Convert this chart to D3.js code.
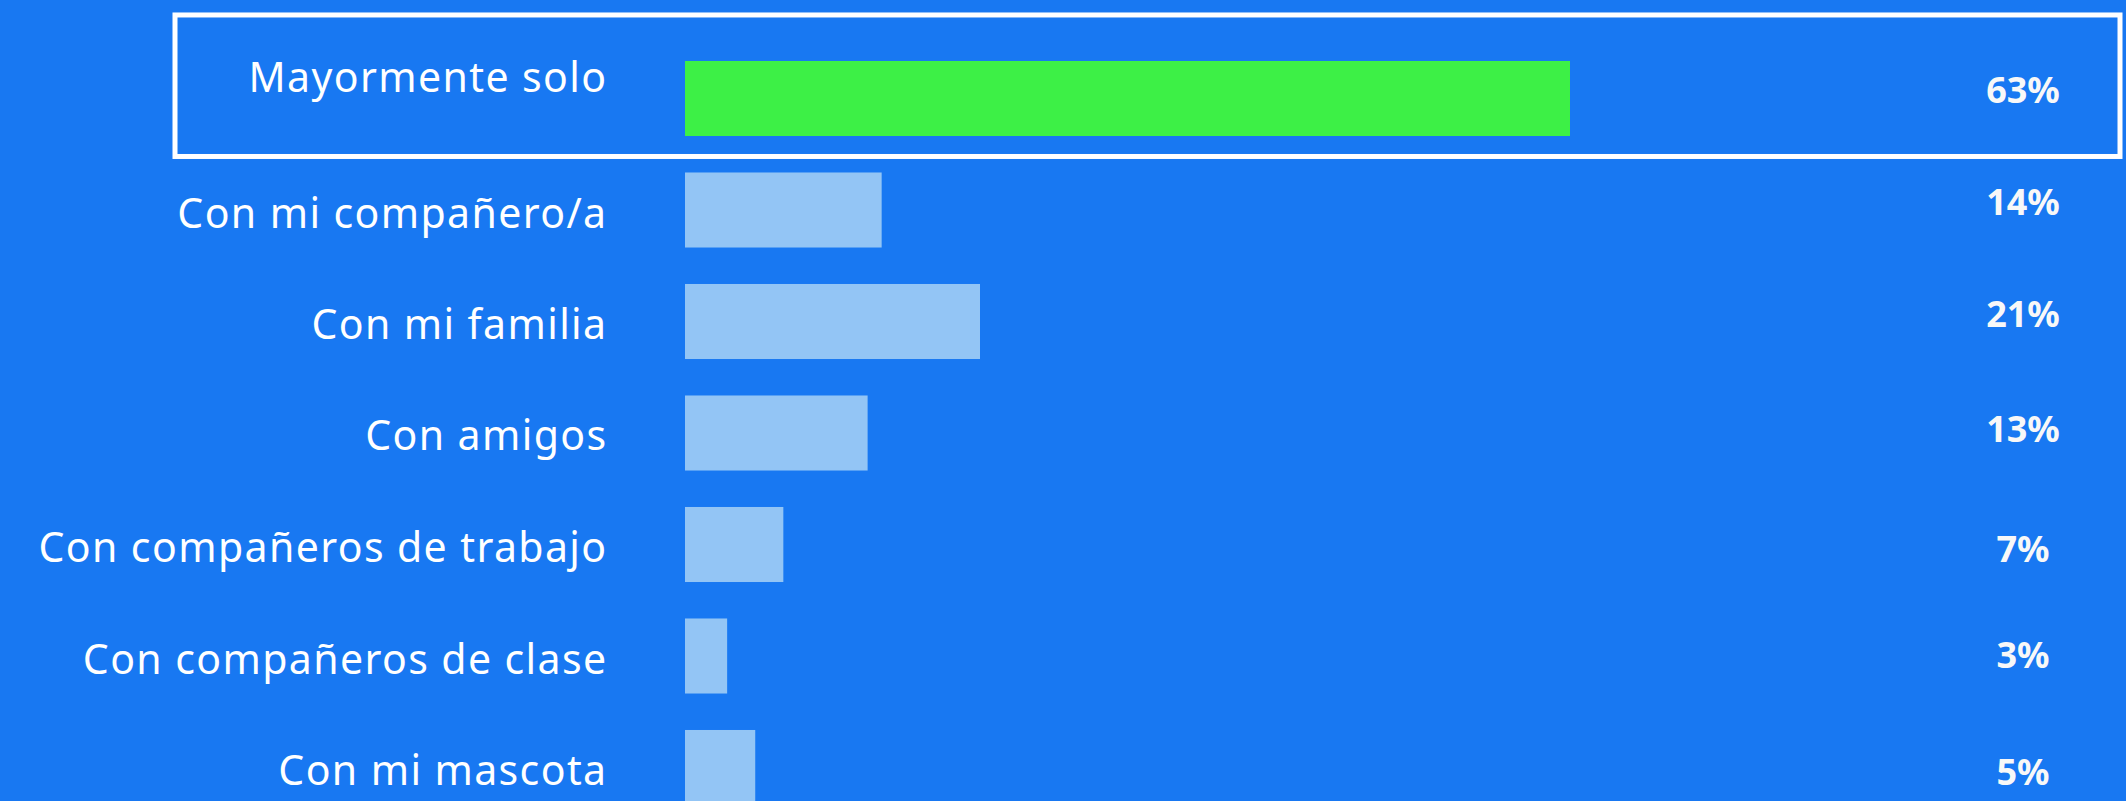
<!DOCTYPE html>
<html>
<head>
<meta charset="utf-8">
<script src="https://cdn.jsdelivr.net/npm/d3@7"></script>
<style>
  html, body { margin: 0; padding: 0; background: #1878F2; overflow: hidden; }
  svg { display: block; }
</style>
</head>
<body>
<svg id="chart" width="2126" height="801"></svg>
<script>
// Survey answers: who people spend most of their time with
const categories = [
  "Mayormente solo",
  "Con mi compañero/a",
  "Con mi familia",
  "Con amigos",
  "Con compañeros de trabajo",
  "Con compañeros de clase",
  "Con mi mascota"
];
const values = [63, 14, 21, 13, 7, 3, 5];
const valueLabels = ["63%", "14%", "21%", "13%", "7%", "3%", "5%"];
const highlighted = "Mayormente solo";

const W = 2126, H = 801;
const svg = d3.select("#chart");

svg.append("rect")
  .attr("width", W).attr("height", H)
  .attr("fill", "#1878F2");

// Layout
const barLeft = 685;
const x = d3.scaleLinear().domain([0, 63]).range([barLeft, 1570]);
const y = d3.scaleBand()
  .domain(categories)
  .range([42.75, 42.75 + 7 * 111.5])
  .paddingInner(0.327)
  .paddingOuter(0.1635);

const labelRight = 607.5;
const pctCenter = 2023;
// baseline offsets from each bar's centre
const labelNudge = [-6.5, 17.5, 17, 17, 17.5, 17.5, 17.5];
const pctNudge = [4.5, 4.5, 5.5, 9, 17.5, 11.5, 17.5];

const rows = categories.map((c, i) => ({ c, v: values[i], t: valueLabels[i], i }));

// Bars
svg.append("g").selectAll("rect")
  .data(rows)
  .join("rect")
  .attr("x", x(0))
  .attr("y", d => y(d.c))
  .attr("width", d => x(d.v) - x(0))
  .attr("height", y.bandwidth())
  .attr("fill", d => d.c === highlighted ? "#3DF046" : "#93C5F5");

// Category labels
svg.append("g").selectAll("text")
  .data(rows)
  .join("text")
  .attr("x", labelRight)
  .attr("y", d => y(d.c) + y.bandwidth() / 2 + labelNudge[d.i])
  .attr("text-anchor", "end")
  .attr("fill", "#FFFFFF")
  .style("font-family", "'Noto Sans', sans-serif")
  .style("font-size", "41px")
  .style("letter-spacing", "1.4px")
  .text(d => d.c);

// Percentage labels
svg.append("g").selectAll("text")
  .data(rows)
  .join("text")
  .attr("x", pctCenter)
  .attr("y", d => y(d.c) + y.bandwidth() / 2 + pctNudge[d.i])
  .attr("text-anchor", "middle")
  .attr("fill", "#F8F8F8")
  .style("font-family", "'Noto Sans', sans-serif")
  .style("font-weight", "700")
  .style("font-size", "36px")
  .text(d => d.t);

// Outline around the highlighted row
const hy = y(highlighted);
svg.append("rect")
  .attr("x", 175)
  .attr("y", hy - 46)
  .attr("width", 2120 - 175)
  .attr("height", 141.5)
  .attr("fill", "none")
  .attr("stroke", "#FFFFFF")
  .attr("stroke-width", 5);
</script>
</body>
</html>
